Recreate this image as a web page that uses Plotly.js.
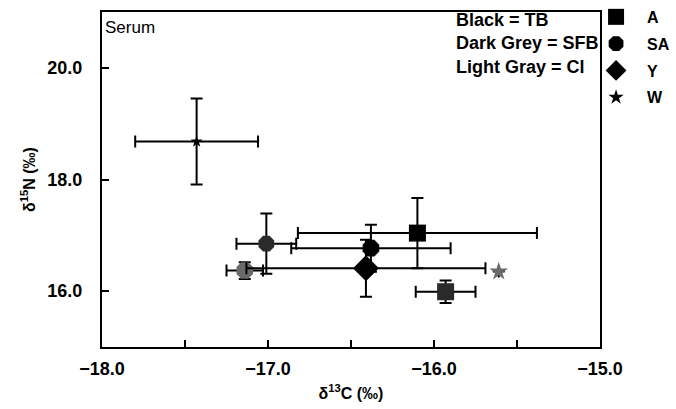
<!DOCTYPE html>
<html>
<head>
<meta charset="utf-8">
<script src="https://cdn.plot.ly/plotly-3.0.1.min.js"></script>
<style>html,body{margin:0;padding:0;background:#fff;}#chart{width:676px;height:409px;}</style>
</head>
<body>
<div id="chart"></div>
<script>
// Groups: Black = TB, Dark Grey = SFB, Light Gray = CI
const groupColors = {TB: '#000000', SFB: '#2a2a2a', CI: '#6a6a6a'};

// Age class A (square)
const aGroup = ['TB', 'SFB'];
const aX = [-16.10, -15.93];
const aY = [17.04, 15.99];
const aErrX = [0.72, 0.18];
const aErrY = [0.63, 0.20];

// Age class SA (circle)
const saGroup = ['TB', 'SFB', 'CI'];
const saX = [-16.38, -17.01, -17.14];
const saY = [16.77, 16.85, 16.37];
const saErrX = [0.48, 0.18, 0.11];
const saErrY = [0.42, 0.54, 0.15];

// Age class Y (diamond)
const yGroup = ['TB'];
const yX = [-16.41];
const yY = [16.41];
const yErrX = [0.72];
const yErrY = [0.51];

// Age class W (star)
const wGroup = ['TB', 'CI'];
const wX = [-17.43, -15.61];
const wY = [18.68, 16.35];
const wErrX = [0.37, 0];
const wErrY = [0.77, 0];

const xTickVals = [-18, -17.5, -17, -16.5, -16, -15.5, -15];
const xTickText = ['\u221218.0', '', '\u221217.0', '', '\u221216.0', '', '\u221215.0'];
const yTickVals = [16, 18, 20];
const yTickText = ['16.0', '18.0', '20.0'];

const FAM = 'Liberation Sans, Arial, sans-serif';

function mk(name, xs, ys, ex, ey, groups, symbol, sizes) {
  return {
    type: 'scatter', mode: 'markers', name: name, legendgroup: name,
    x: xs, y: ys,
    marker: {symbol: symbol, size: sizes, opacity: 1,
             color: groups.map(g => groupColors[g]), line: {width: 0}},
    error_x: {type: 'data', array: ex, visible: true, color: '#000', thickness: 2, width: 6},
    error_y: {type: 'data', array: ey, visible: true, color: '#000', thickness: 2, width: 6}
  };
}

const data = [
  mk('A', aX, aY, aErrX, aErrY, aGroup, 'square', [17, 17]),
  mk('SA', saX, saY, saErrX, saErrY, saGroup, 'octagon', [18, 17, 18]),
  mk('Y', yX, yY, yErrX, yErrY, yGroup, 'diamond', [20]),
  mk('W', wX, wY, wErrX, wErrY, wGroup, 'star', [9, 14])
];

const layout = {
  width: 676, height: 409,
  margin: {l: 102, r: 76, t: 12, b: 62, autoexpand: false},
  paper_bgcolor: '#fff', plot_bgcolor: '#fff',
  font: {family: FAM, size: 14, color: '#000'},
  showlegend: true,
  legend: {x: 0.970, xanchor: 'left', y: 1.036, yanchor: 'top',
           font: {family: FAM, size: 16, color: '#000', weight: 'bold'},
           bgcolor: 'rgba(0,0,0,0)', borderwidth: 0, itemwidth: 52,
           traceorder: 'grouped', tracegroupgap: 3},
  xaxis: {
    range: [-18, -15], tickmode: 'array', tickvals: xTickVals, ticktext: xTickText,
    ticks: 'inside', ticklen: 7, tickwidth: 2, tickcolor: '#000',
    showline: true, linecolor: '#000', linewidth: 2, mirror: true,
    showgrid: false, zeroline: false, ticklabelstandoff: 4,
    tickfont: {family: FAM, size: 18, color: '#000', weight: 'bold'},
    title: {text: '\u03b4<sup>13</sup>C (\u2030)', standoff: 10,
            font: {family: FAM, size: 16, color: '#000', weight: 'bold'}}
  },
  yaxis: {
    range: [15, 21], tickmode: 'array', tickvals: yTickVals, ticktext: yTickText,
    ticks: 'inside', ticklen: 7, tickwidth: 2, tickcolor: '#000',
    showline: true, linecolor: '#000', linewidth: 2, mirror: true,
    showgrid: false, zeroline: false, ticklabelstandoff: 14,
    tickfont: {family: FAM, size: 18, color: '#000', weight: 'bold'},
    title: {text: '\u03b4<sup>15</sup>N (\u2030)', standoff: 8,
            font: {family: FAM, size: 16, color: '#000', weight: 'bold'}}
  },
  annotations: [
    {xref: 'paper', yref: 'paper', x: 0, y: 1, xanchor: 'left', yanchor: 'top',
     xshift: 1, yshift: -4, showarrow: false, text: 'Serum',
     font: {family: FAM, size: 17, color: '#000'}},
    {xref: 'paper', yref: 'paper', x: 1, y: 1, xanchor: 'right', yanchor: 'top',
     xshift: 1, yshift: 4, showarrow: false, align: 'left',
     text: 'Black = TB<br>Dark Grey = SFB<br>Light Gray = Cl',
     font: {family: FAM, size: 18, color: '#000', weight: 'bold'}}
  ]
};

Plotly.newPlot('chart', data, layout, {displayModeBar: false, staticPlot: true});
</script>
</body>
</html>
